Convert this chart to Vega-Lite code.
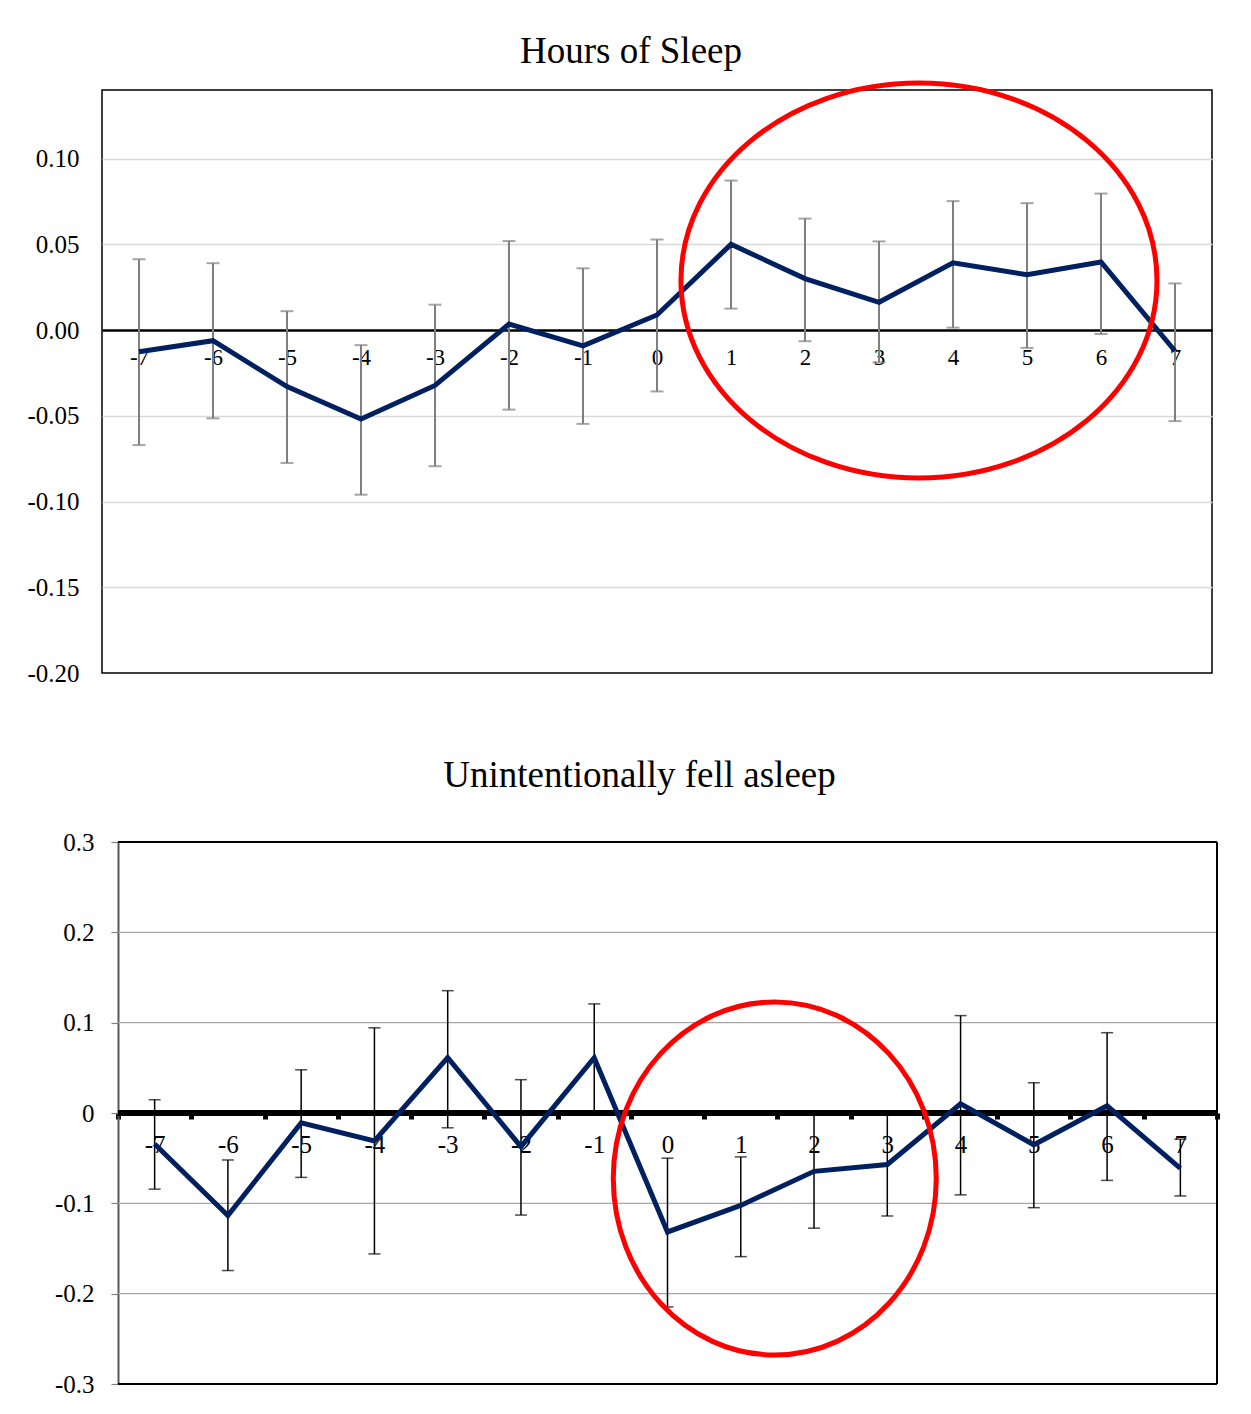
{
  "$schema": "https://vega.github.io/schema/vega-lite/v6.json",
  "padding": {"left": 10, "top": 32, "right": 0, "bottom": 0},
  "background": "white",
  "spacing": 70,
  "config": {"font": "Liberation Serif"},
  "datasets": {
    "sleep": [
      {"day": -7, "mean": -0.0127, "lo": -0.0671, "hi": 0.0413},
      {"day": -6, "mean": -0.0062, "lo": -0.0515, "hi": 0.039},
      {"day": -5, "mean": -0.033, "lo": -0.0775, "hi": 0.011},
      {"day": -4, "mean": -0.0519, "lo": -0.096, "hi": -0.0088},
      {"day": -3, "mean": -0.0323, "lo": -0.0794, "hi": 0.0148},
      {"day": -2, "mean": 0.0035, "lo": -0.0464, "hi": 0.0519},
      {"day": -1, "mean": -0.0092, "lo": -0.0547, "hi": 0.036},
      {"day": 0, "mean": 0.0088, "lo": -0.0358, "hi": 0.0528},
      {"day": 1, "mean": 0.05, "lo": 0.0125, "hi": 0.0872},
      {"day": 2, "mean": 0.03, "lo": -0.0065, "hi": 0.065},
      {"day": 3, "mean": 0.0162, "lo": -0.0189, "hi": 0.0517},
      {"day": 4, "mean": 0.0392, "lo": 0.0014, "hi": 0.0752},
      {"day": 5, "mean": 0.0323, "lo": -0.0104, "hi": 0.074},
      {"day": 6, "mean": 0.0397, "lo": -0.0023, "hi": 0.0796},
      {"day": 7, "mean": -0.0122, "lo": -0.0531, "hi": 0.0272}
    ],
    "asleep": [
      {"day": -7, "mean": -0.0344, "lo": -0.0843, "hi": 0.0147},
      {"day": -6, "mean": -0.1136, "lo": -0.1744, "hi": -0.052},
      {"day": -5, "mean": -0.0109, "lo": -0.0713, "hi": 0.0478},
      {"day": -4, "mean": -0.031, "lo": -0.156, "hi": 0.0943},
      {"day": -3, "mean": 0.0612, "lo": -0.0164, "hi": 0.1354},
      {"day": -2, "mean": -0.0373, "lo": -0.113, "hi": 0.0369},
      {"day": -1, "mean": 0.0612, "lo": 0.0015, "hi": 0.1208},
      {"day": 0, "mean": -0.1317, "lo": -0.2147, "hi": -0.05},
      {"day": 1, "mean": -0.1023, "lo": -0.159, "hi": -0.0486},
      {"day": 2, "mean": -0.0646, "lo": -0.1275, "hi": -0.002},
      {"day": 3, "mean": -0.057, "lo": -0.114, "hi": 0.0},
      {"day": 4, "mean": 0.0101, "lo": -0.0906, "hi": 0.1078},
      {"day": 5, "mean": -0.0352, "lo": -0.1048, "hi": 0.0335},
      {"day": 6, "mean": 0.008, "lo": -0.0746, "hi": 0.0889},
      {"day": 7, "mean": -0.0612, "lo": -0.0918, "hi": -0.029}
    ]
  },
  "vconcat": [
    {
      "width": 1110,
      "height": 583,
      "view": {"stroke": "#000000", "strokeWidth": 1.5},
      "title": {"text": "Hours of Sleep", "fontSize": 37, "fontWeight": "normal", "font": "Liberation Serif", "color": "#000000", "offset": 2, "dx": -26, "anchor": "middle"},
      "data": {"name": "sleep"},
      "layer": [
        {
          "mark": {"type": "rule", "color": "#7f7f7f", "strokeWidth": 2},
          "encoding": {
            "x": {"field": "day", "type": "quantitative", "scale": {"domain": [-7.5, 7.5], "nice": false, "zero": false},
              "axis": {"title": null, "orient": "bottom", "offset": -343, "values": [-7, -6, -5, -4, -3, -2, -1, 0, 1, 2, 3, 4, 5, 6, 7], "grid": false, "ticks": false, "tickSize": 0, "domainColor": "#000000", "domainWidth": 2.5, "labelFontSize": 23, "labelPadding": 16, "labelColor": "#000000", "labelFont": "Liberation Serif", "labelOverlap": false, "labelBound": false, "labelExpr": "datum.value < 0 ? '-' + format(-datum.value, 'd') : format(datum.value, 'd')"}},
            "y": {"field": "lo", "type": "quantitative", "scale": {"domain": [-0.2, 0.14], "nice": false, "zero": false},
              "axis": {"title": null, "values": [-0.2, -0.15, -0.1, -0.05, 0, 0.05, 0.1], "grid": true, "gridColor": "#d9d9d9", "gridWidth": 1.5, "gridOpacity": {"condition": {"test": "datum.value == 0 || datum.value == -0.2", "value": 0}, "value": 1}, "domain": false, "ticks": false, "tickSize": 0, "labelPadding": 23, "labelFontSize": 25, "labelColor": "#000000", "labelFont": "Liberation Serif", "minExtent": 91, "maxExtent": 91, "labelExpr": "datum.value < 0 ? '-' + format(-datum.value, '.2f') : format(datum.value, '.2f')"}},
            "y2": {"field": "hi"}
          }
        },
        {
          "mark": {"type": "tick", "orient": "horizontal", "color": "#7f7f7f", "size": 13, "thickness": 2},
          "encoding": {
            "x": {"field": "day", "type": "quantitative"},
            "y": {"field": "hi", "type": "quantitative"}
          }
        },
        {
          "mark": {"type": "tick", "orient": "horizontal", "color": "#7f7f7f", "size": 13, "thickness": 2},
          "encoding": {
            "x": {"field": "day", "type": "quantitative"},
            "y": {"field": "lo", "type": "quantitative"}
          }
        },
        {
          "mark": {"type": "line", "color": "#002060", "strokeWidth": 5},
          "encoding": {
            "x": {"field": "day", "type": "quantitative"},
            "y": {"field": "mean", "type": "quantitative"}
          }
        },
        {
          "data": {"values": [{"day": 3.54, "mean": 0.0289}]},
          "mark": {"type": "point", "shape": "M 1.2051 0 C 1.2051 0.5523 0.6656 1 0 1 C -0.6656 1 -1.2051 0.5523 -1.2051 0 C -1.2051 -0.5523 -0.6656 -1 0 -1 C 0.6656 -1 1.2051 -0.5523 1.2051 0 Z", "size": 156025, "filled": false, "stroke": "#ff0000", "strokeWidth": 5, "opacity": 1},
          "encoding": {
            "x": {"field": "day", "type": "quantitative"},
            "y": {"field": "mean", "type": "quantitative"}
          }
        }
      ]
    },
    {
      "width": 1115,
      "height": 542,
      "view": {"stroke": null},
      "title": {"text": "Unintentionally fell asleep", "fontSize": 37, "fontWeight": "normal", "font": "Liberation Serif", "color": "#000000", "offset": 35, "dx": -20, "anchor": "middle"},
      "data": {"name": "asleep"},
      "resolve": {"axis": {"x": "independent"}},
      "layer": [
        {
          "data": {"values": [{"g": -0.2}, {"g": -0.1}, {"g": 0.1}, {"g": 0.2}]},
          "mark": {"type": "rule", "color": "#a6a6a6", "strokeWidth": 1.2},
          "encoding": {
            "x": {"datum": -7.5, "type": "quantitative", "axis": null},
            "x2": {"datum": 7.5},
            "y": {"field": "g", "type": "quantitative"}
          }
        },
        {
          "mark": {"type": "rule", "color": "#000000", "strokeWidth": 2},
          "encoding": {
            "x": {"datum": -7.5, "type": "quantitative", "axis": null},
            "x2": {"datum": 7.5},
            "y": {"datum": 0.3, "type": "quantitative"}
          }
        },
        {
          "mark": {"type": "rule", "color": "#000000", "strokeWidth": 2},
          "encoding": {
            "x": {"datum": -7.5, "type": "quantitative", "axis": null},
            "x2": {"datum": 7.5},
            "y": {"datum": -0.3, "type": "quantitative"}
          }
        },
        {
          "mark": {"type": "rule", "color": "#000000", "strokeWidth": 2},
          "encoding": {
            "x": {"datum": 7.5, "type": "quantitative", "axis": null},
            "y": {"datum": -0.3, "type": "quantitative"},
            "y2": {"datum": 0.3}
          }
        },
        {
          "mark": {"type": "rule", "color": "#000000", "strokeWidth": 4.5},
          "encoding": {
            "x": {"datum": -7.5, "type": "quantitative", "axis": null},
            "x2": {"datum": 7.5},
            "y": {"datum": 0, "type": "quantitative"}
          }
        },
        {
          "mark": {"type": "rule", "color": "#000000", "strokeWidth": 1.5},
          "encoding": {
            "x": {"field": "day", "type": "quantitative", "scale": {"domain": [-7.7184, 7.5], "nice": false, "zero": false},
              "axis": {"title": null, "orient": "bottom", "offset": -271, "values": [-7.5, -6.5, -5.5, -4.5, -3.5, -2.5, -1.5, -0.5, 0.5, 1.5, 2.5, 3.5, 4.5, 5.5, 6.5, 7.5], "grid": false, "ticks": true, "tickSize": 6, "tickWidth": 5, "tickColor": "#000000", "labels": false, "domain": false}},
            "y": {"field": "lo", "type": "quantitative", "scale": {"domain": [-0.3, 0.3], "nice": false, "zero": false},
              "axis": {"title": null, "offset": -16, "values": [-0.3, -0.2, -0.1, 0, 0.1, 0.2, 0.3], "grid": false, "domain": true, "domainColor": "#595959", "domainWidth": 2, "ticks": true, "tickSize": 7, "tickColor": "#808080", "tickWidth": 1.2, "labelPadding": 17, "labelFontSize": 25, "labelColor": "#000000", "labelFont": "Liberation Serif", "labelExpr": "datum.value == 0 ? '0' : (datum.value < 0 ? '-' + format(-datum.value, '.1f') : format(datum.value, '.1f'))"}},
            "y2": {"field": "hi"}
          }
        },
        {
          "mark": {"type": "tick", "orient": "horizontal", "color": "#000000", "size": 12, "thickness": 1.5},
          "encoding": {
            "x": {"field": "day", "type": "quantitative",
              "axis": {"title": null, "orient": "bottom", "offset": -271, "values": [-7, -6, -5, -4, -3, -2, -1, 0, 1, 2, 3, 4, 5, 6, 7], "grid": false, "ticks": false, "tickSize": 0, "domain": false, "labelFontSize": 25, "labelPadding": 19, "labelColor": "#000000", "labelFont": "Liberation Serif", "labelOverlap": false, "labelBound": false, "labelExpr": "datum.value < 0 ? '-' + format(-datum.value, 'd') : format(datum.value, 'd')"}},
            "y": {"field": "hi", "type": "quantitative"}
          }
        },
        {
          "mark": {"type": "tick", "orient": "horizontal", "color": "#000000", "size": 12, "thickness": 1.5},
          "encoding": {
            "x": {"field": "day", "type": "quantitative", "axis": null},
            "y": {"field": "lo", "type": "quantitative"}
          }
        },
        {
          "mark": {"type": "line", "color": "#002060", "strokeWidth": 5},
          "encoding": {
            "x": {"field": "day", "type": "quantitative", "axis": null},
            "y": {"field": "mean", "type": "quantitative"}
          }
        },
        {
          "data": {"values": [{"day": 1.464, "mean": -0.0725}]},
          "mark": {"type": "point", "shape": "M 0.915 0 C 0.915 0.5523 0.5054 1 0 1 C -0.5054 1 -0.915 0.5523 -0.915 0 C -0.915 -0.5523 -0.5054 -1 0 -1 C 0.5054 -1 0.915 -0.5523 0.915 0 Z", "size": 124609, "filled": false, "stroke": "#ff0000", "strokeWidth": 5, "opacity": 1},
          "encoding": {
            "x": {"field": "day", "type": "quantitative", "axis": null},
            "y": {"field": "mean", "type": "quantitative"}
          }
        }
      ]
    }
  ]
}
